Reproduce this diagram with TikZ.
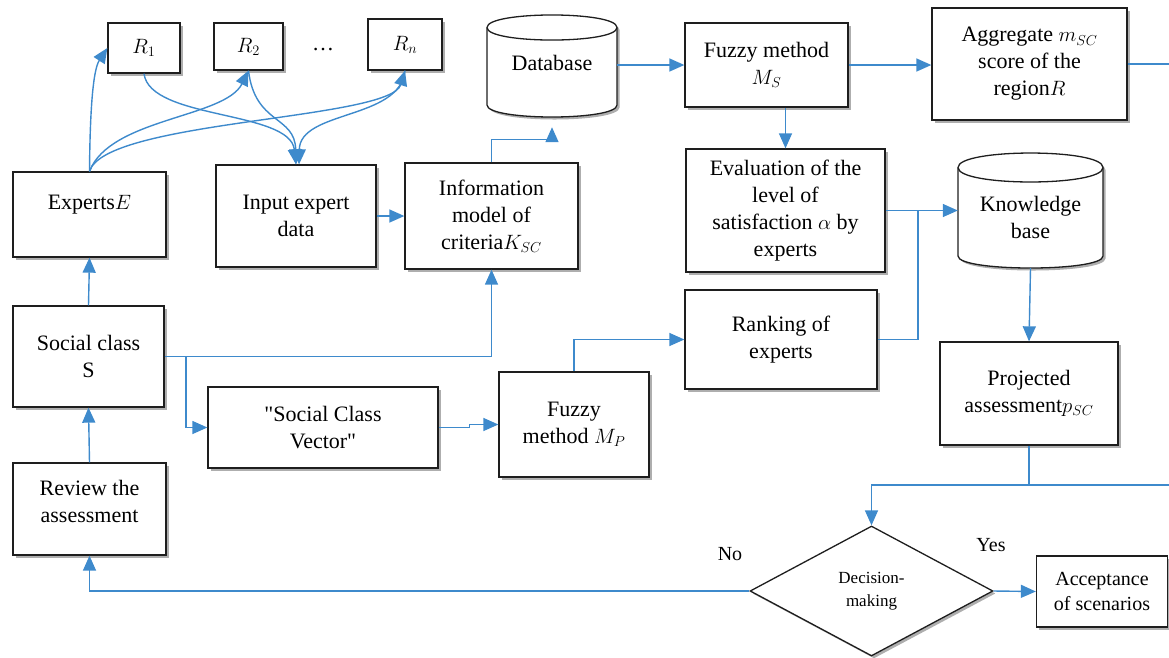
\documentclass[tikz,border=0pt]{standalone}
\usepackage{fontspec}
\setmainfont{Liberation Serif}[Ligatures=TeXOff]
\usetikzlibrary{arrows.meta,shapes.geometric,shadows,calc}
\definecolor{lblue}{RGB}{62,138,204}
\definecolor{bline}{RGB}{30,30,30}
\newcommand\mainfs{\fontsize{22}{27}\selectfont}
\newcommand\decfs{\fontsize{17}{23}\selectfont}
\newcommand\accfs{\fontsize{20}{25}\selectfont}
\begin{document}
\begin{tikzpicture}[x=1pt,y=-1pt,
  shd/.style={drop shadow={shadow xshift=2.5pt,shadow yshift=-2.5pt,opacity=.45,fill=black!70}},
  bx/.style={draw=bline,line width=1.3pt,fill=white,align=center,inner sep=0pt,font=\mainfs,shd},
  txt/.style={align=center,font=\mainfs,inner sep=0pt},
  con/.style={draw=lblue,line width=1.4pt},
  arr/.style={con,-{Triangle[length=15pt,width=13pt]},lblue}]
\useasboundingbox (0,0) rectangle (1169,657);

% ---------- top row ----------
\node[bx,minimum width=72pt,minimum height=50pt] (r1) at (144,48) {$R_1$};
\node[bx,minimum width=69pt,minimum height=47pt] (r2) at (248.5,46.5) {$R_2$};
\node[txt] (dots) at (323,50) {\dots};
\node[bx,minimum width=74pt,minimum height=51pt] (rn) at (405,44.5) {$R_n$};

% Database cylinder
\path[draw=bline,line width=1.3pt,fill=white,shd]
  (487,27.5) -- (487,105) .. controls (487,121) and (617,121) .. (617,105)
  -- (617,27.5) .. controls (617,10.8) and (487,10.8) .. (487,27.5) -- cycle;
\draw[bline,line width=1.3pt] (487,27.5) .. controls (487,44.2) and (617,44.2) .. (617,27.5);
\node[txt,minimum width=130pt,minimum height=108pt] (db) at (552,63) {Database};

\node[bx,minimum width=163pt,minimum height=84pt] (fms) at (766.5,65) {Fuzzy method\\$M_S$};
\node[bx,minimum width=195pt,minimum height=112pt] (agg) at (1029.5,64) {Aggregate $m_{SC}$\\score of the\\region$R$};
\coordinate (offA) at (1169,64);

% ---------- second row ----------
\node[bx,minimum width=153pt,minimum height=85pt] (exp) at (89.5,214.5) {};
\node[txt] at (89.5,205) {Experts$E$};
\node[bx,minimum width=160pt,minimum height=102pt] (inp) at (296,216) {Input expert\\data};
\node[bx,minimum width=173pt,minimum height=106pt] (info) at (491.5,216) {Information\\model of\\criteria$K_{SC}$};
\node[bx,minimum width=199pt,minimum height=123pt] (eval) at (785.5,210.5) {Evaluation of the\\level of\\satisfaction $\alpha$ by\\experts};

% Knowledge base cylinder
\path[draw=bline,line width=1.3pt,fill=white,shd]
  (958,167.5) -- (958,256) .. controls (958,272) and (1103,272) .. (1103,256)
  -- (1103,167.5) .. controls (1103,148.2) and (958,148.2) .. (958,167.5) -- cycle;
\draw[bline,line width=1.3pt] (958,167.5) .. controls (958,186.8) and (1103,186.8) .. (1103,167.5);
\node[txt,minimum width=145pt,minimum height=101pt] (kb) at (1030.5,217.5) {Knowledge\\base};

% ---------- third row ----------
\node[bx,minimum width=151pt,minimum height=101pt] (soc) at (88.5,356.5) {Social class\\S};
\node[bx,minimum width=192pt,minimum height=99pt] (rank) at (781,339.5) {Ranking of\\experts};
\node[bx,minimum width=230pt,minimum height=81pt] (scv) at (323,427.5) {"Social Class\\Vector"};
\node[bx,minimum width=150pt,minimum height=105pt] (mp) at (574,424.5) {Fuzzy\\method $M_P$};
\node[bx,minimum width=178pt,minimum height=103pt] (proj) at (1029,393.5) {Projected\\assessment$p_{SC}$};

% ---------- bottom ----------
\node[bx,minimum width=153pt,minimum height=92pt] (rev) at (89.5,509) {};
\node[txt] at (89.5,501) {Review the\\assessment};
\node[bx,diamond,minimum width=243pt,minimum height=130pt,font=\decfs] (dec) at (871.5,591) {Decision-\\making};
\node[bx,minimum width=131pt,minimum height=71pt,font=\accfs] (acc) at (1102,591.5) {Acceptance\\of scenarios};
\node[txt,font=\accfs] (no) at (730,554) {No};
\node[txt,font=\accfs] (yes) at (991,545) {Yes};

\coordinate (br) at (186,356.5);
\coordinate (jn) at (918,210.5);
\coordinate (pj) at (1029,485);
\coordinate (offR) at (1169,485);

% ---------- connectors ----------
\draw[arr] (exp.north) .. controls (90,110) and (93,70) .. (r1.west);
\draw[arr] (exp.north) .. controls (110,118) and (225,118) .. (r2.south);
\draw[arr] (exp.north) .. controls (105,120) and (390,120) .. (rn.south);
\draw[arr] (r1.south) .. controls (150,120) and (290,110) .. (inp.north);
\draw[arr] (r2.south) .. controls (255,125) and (295,115) .. (inp.north);
\draw[arr] (rn.south) .. controls (400,120) and (300,110) .. ([xshift=3pt]inp.north);

\draw[arr] (inp.east) -- (info.west);
\draw[arr,shorten >=10pt] (info.north) -- ++(0,-23) -| (db.south);
\draw[arr] (fms.west -| db.east) -- (fms.west);
\draw[arr] (fms.east) -- (fms.east -| agg.west);
\draw[con] (agg.east) -- (offA);
\draw[arr] (eval.north |- fms.south) -- (eval.north);
\draw[arr] (eval.east) -- (eval.east -| kb.west);
\draw[con] (rank.east) -| (jn);
\draw[arr] (kb.south) -- (proj.north);
\draw[con] (proj.south) -- (pj);
\draw[arr] (pj) -| (dec.north);
\draw[con] (pj) -- (offR);

\draw[arr] (rev.north) -- (soc.south);
\draw[arr] (soc.north) -- (exp.south);
\draw[arr] (soc.east) -| (info.south);
\draw[arr] (br) |- (scv.west);
\draw[arr] (scv.east) -- ([xshift=31pt]scv.east) |- (mp.west);
\draw[arr] (mp.north) |- (rank.west);

\draw[arr] (dec.west) -| (rev.south);
\draw[arr] (dec.east) -- (acc.west);
\end{tikzpicture}
\end{document}
